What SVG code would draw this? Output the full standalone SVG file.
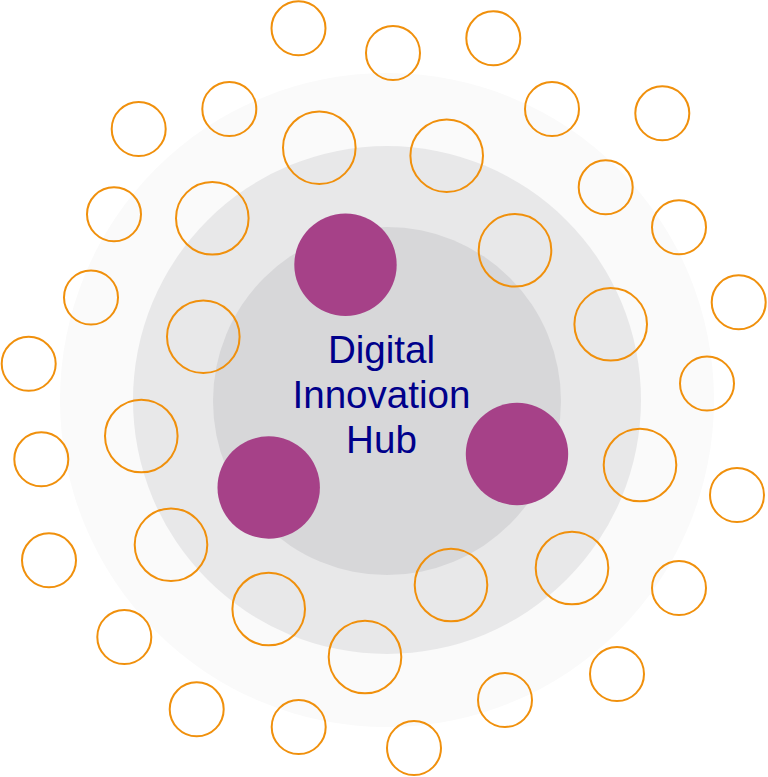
<svg xmlns="http://www.w3.org/2000/svg" width="768" height="777" viewBox="0 0 768 777">
<style>
.ring1{fill:#fafafa}
.ring2{fill:#e8e8e9}
.ring3{fill:#d7d7d9}
.s{fill:none;stroke:#f0900c;stroke-width:2}
.l{fill:none;stroke:#f0900c;stroke-width:2}
.p{fill:#a64188}
.t{font-family:"Liberation Sans",Arial,sans-serif;font-size:38.6px;fill:#00008b;text-anchor:middle}
</style>
<rect width="768" height="777" fill="#ffffff"/>
<g id="background">
<circle class="ring1" cx="387" cy="400" r="327"/>
<circle class="ring2" cx="387" cy="400" r="254"/>
<circle class="ring3" cx="387" cy="401" r="174"/>
</g>
<g id="outer-nodes">
<circle class="s" cx="298.5" cy="28.3" r="27"/>
<circle class="s" cx="393" cy="53" r="27"/>
<circle class="s" cx="493.3" cy="38.3" r="27"/>
<circle class="s" cx="138.7" cy="129" r="27"/>
<circle class="s" cx="229.3" cy="109" r="27"/>
<circle class="s" cx="552" cy="109" r="27"/>
<circle class="s" cx="662.3" cy="113.3" r="27"/>
<circle class="s" cx="114" cy="214.3" r="27"/>
<circle class="s" cx="605.7" cy="187.3" r="27"/>
<circle class="s" cx="679" cy="227.3" r="27"/>
<circle class="s" cx="91" cy="297.5" r="27"/>
<circle class="s" cx="738.7" cy="302.3" r="27"/>
<circle class="s" cx="28.7" cy="363.8" r="27"/>
<circle class="s" cx="707" cy="383.5" r="27"/>
<circle class="s" cx="41.3" cy="459.3" r="27"/>
<circle class="s" cx="737" cy="495" r="27"/>
<circle class="s" cx="49" cy="560.3" r="27"/>
<circle class="s" cx="679" cy="588" r="27"/>
<circle class="s" cx="124.3" cy="637" r="27"/>
<circle class="s" cx="617" cy="674" r="27"/>
<circle class="s" cx="196.7" cy="709.3" r="27"/>
<circle class="s" cx="505" cy="700" r="27"/>
<circle class="s" cx="298.7" cy="727" r="27"/>
<circle class="s" cx="414" cy="748" r="27"/>
</g>
<g id="middle-nodes">
<circle class="l" cx="319.3" cy="147.7" r="36.3"/>
<circle class="l" cx="446.7" cy="155.7" r="36.3"/>
<circle class="l" cx="212.3" cy="218.3" r="36.3"/>
<circle class="l" cx="515" cy="250.3" r="36.3"/>
<circle class="l" cx="203.3" cy="336.7" r="36.3"/>
<circle class="l" cx="610.7" cy="324.3" r="36.3"/>
<circle class="l" cx="141.3" cy="436" r="36.3"/>
<circle class="l" cx="640" cy="465" r="36.3"/>
<circle class="l" cx="171" cy="544.8" r="36.3"/>
<circle class="l" cx="572" cy="568" r="36.3"/>
<circle class="l" cx="268.7" cy="609" r="36.3"/>
<circle class="l" cx="451" cy="585" r="36.3"/>
<circle class="l" cx="365" cy="657" r="36.3"/>
</g>
<g id="core-nodes">
<circle class="p" cx="345.5" cy="264.7" r="51.2"/>
<circle class="p" cx="268.7" cy="487.5" r="51.2"/>
<circle class="p" cx="517" cy="454" r="51.2"/>
</g>
<g id="hub-label">
<text class="t" x="381.5" y="362.7">Digital</text>
<text class="t" x="381.5" y="408.2">Innovation</text>
<text class="t" x="381.5" y="453.3">Hub</text>
</g>
</svg>
